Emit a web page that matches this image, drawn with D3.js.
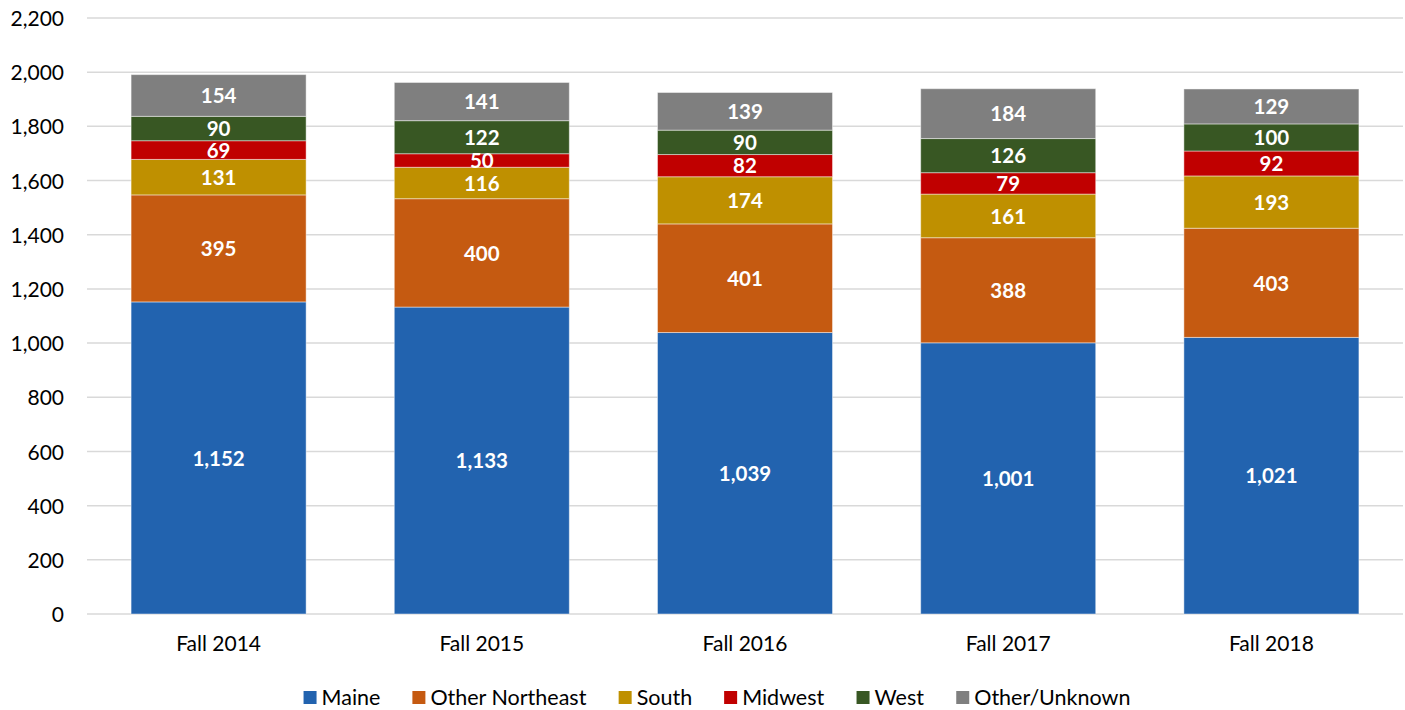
<!DOCTYPE html>
<html><head><meta charset="utf-8">
<script src="https://cdn.jsdelivr.net/npm/d3@7"></script>
<style>body{margin:0;background:#fff;} svg{display:block;} text{font-family:Lato,"Open Sans",sans-serif;}</style>
</head><body>
<svg id="c" width="1405" height="710"></svg>
<script>
const categories = ["Fall 2014","Fall 2015","Fall 2016","Fall 2017","Fall 2018"];
const seriesNames = ["Maine","Other Northeast","South","Midwest","West","Other/Unknown"];
const maine = [1152,1133,1039,1001,1021];
const otherNortheast = [395,400,401,388,403];
const south = [131,116,174,161,193];
const midwest = [69,50,82,79,92];
const west = [90,122,90,126,100];
const otherUnknown = [154,141,139,184,129];
const yTicks = [0,200,400,600,800,1000,1200,1400,1600,1800,2000,2200];
const colors = ["#2263AF","#C55A11","#BF9000","#C00000","#385723","#7F7F7F"];

const seriesValues = [maine, otherNortheast, south, midwest, west, otherUnknown];
const rows = categories.map((c,i)=>{const r={cat:c}; seriesNames.forEach((s,j)=>r[s]=seriesValues[j][i]); return r;});
const stacked = d3.stack().keys(seriesNames)(rows);

const svg = d3.select("#c");
const x = d3.scaleBand().domain(categories).range([87,1403]).paddingInner(0.335).paddingOuter(0.1675);
const y = d3.scaleLinear().domain([0,2200]).range([614,18]);
const fmt = d3.format(",");

svg.append("g").selectAll("line").data(yTicks).join("line")
  .attr("x1",87).attr("x2",1403).attr("y1",d=>y(d)).attr("y2",d=>y(d))
  .attr("stroke","#d9d9d9").attr("stroke-width",1.5);

const yAxis = d3.axisLeft(y).tickValues(yTicks).tickFormat(fmt).tickSize(0).tickPadding(0);
const ga = svg.append("g").attr("transform","translate(64,0)").call(yAxis);
ga.select(".domain").remove();
ga.selectAll("text").attr("font-size",21).attr("fill","#000").attr("font-family","Lato,sans-serif").attr("dy","0.36em");

const xAxis = d3.axisBottom(x).tickSize(0).tickPadding(0);
const gx = svg.append("g").attr("transform","translate(0,636)").call(xAxis);
gx.select(".domain").remove();
gx.selectAll("text").attr("font-size",21).attr("fill","#000").attr("font-family","Lato,sans-serif");

const layers = svg.append("g").selectAll("g").data(stacked).join("g").attr("fill",(d,i)=>colors[i]);
layers.selectAll("rect").data(d=>d).join("rect")
  .attr("x",d=>x(d.data.cat)).attr("width",x.bandwidth())
  .attr("y",d=>y(d[1])).attr("height",d=>y(d[0])-y(d[1]))
  .attr("stroke","rgba(255,255,255,0.45)").attr("stroke-width",1);

const lab = svg.append("g").selectAll("g").data(stacked).join("g");
lab.selectAll("text").data(d=>d.map(v=>({v,key:d.key}))).join("text")
  .attr("x",d=>x(d.v.data.cat)+x.bandwidth()/2)
  .attr("y",d=>(y(d.v[0])+y(d.v[1]))/2)
  .attr("dy","0.38em").attr("text-anchor","middle")
  .attr("font-size",20.5).attr("font-weight","bold").attr("fill","#fff")
  .text(d=>fmt(d.v.data[d.key]));

const lg = svg.append("g");
const items = lg.selectAll("g").data(seriesNames).join("g");
items.append("rect").attr("width",13).attr("height",13).attr("fill",(d,i)=>colors[i]);
items.append("text").attr("x",18).attr("y",6.5).attr("dy","0.37em").attr("font-size",21.5).attr("fill","#000").text(d=>d);
let widths=[]; items.each(function(){widths.push(this.getBBox().width);});
const gap=32; const total=d3.sum(widths)+gap*(widths.length-1);
let cx=717-total/2;
items.each(function(d,i){d3.select(this).attr("transform",`translate(${cx},691)`); cx+=widths[i]+gap;});
</script>
</body></html>
